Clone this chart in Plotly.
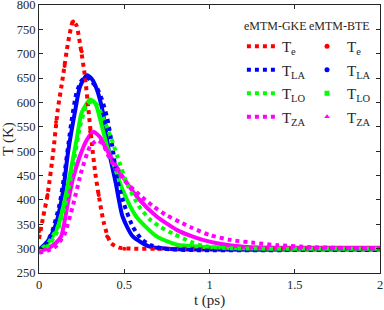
import plotly.graph_objects as go

# ---------------- data ----------------
# eMTM-GKE (dotted lines)
t_gke_e = [0, 0.025, 0.05, 0.083, 0.11, 0.14, 0.17, 0.2, 0.22, 0.24, 0.27, 0.29, 0.31, 0.33, 0.35, 0.38, 0.42, 0.47, 0.55, 0.7, 1.0, 1.5, 2.0]
T_gke_e = [320, 366, 410, 497, 585, 652, 722, 767, 758, 722, 652, 585, 515, 455, 410, 353, 312, 302, 300, 300, 300, 300, 300]

t_gke_la = [0, 0.04, 0.075, 0.12, 0.15, 0.19, 0.22, 0.25, 0.28, 0.31, 0.34, 0.37, 0.40, 0.43, 0.46, 0.50, 0.55, 0.60, 0.65, 0.73, 0.9, 1.5, 2.0]
T_gke_la = [296, 310, 333, 390, 455, 560, 620, 645, 652, 642, 630, 605, 568, 510, 440, 390, 345, 320, 308, 300, 297, 297, 297]

t_gke_lo = [0, 0.05, 0.1, 0.15, 0.2, 0.24, 0.28, 0.31, 0.34, 0.38, 0.42, 0.46, 0.52, 0.59, 0.65, 0.71, 0.79, 0.89, 0.96, 1.1, 1.3, 2.0]
T_gke_lo = [293, 305, 330, 385, 470, 550, 595, 602, 595, 565, 530, 489, 430, 385, 360, 345, 330, 314, 306, 301, 300, 300]

t_gke_za = [0, 0.05, 0.1, 0.15, 0.2, 0.25, 0.3, 0.34, 0.375, 0.4, 0.45, 0.5, 0.59, 0.67, 0.75, 0.83, 0.89, 1.0, 1.12, 1.26, 1.4, 1.6, 2.0]
T_gke_za = [292, 296, 305, 330, 390, 460, 510, 522, 515, 495, 465, 440, 410, 387, 368, 354, 344, 328, 318, 312, 307, 303, 300]

# eMTM-BTE (dense markers forming solid curves)
t_bte_e = [0, 0.05, 0.1, 0.15, 0.2, 0.25, 0.3, 0.35, 0.4, 0.5, 0.7, 1.0, 1.5, 2.0]
T_bte_e = [335, 410, 560, 675, 766, 705, 540, 410, 325, 300, 300, 300, 300, 300]

t_bte_la = [0, 0.05, 0.094, 0.14, 0.17, 0.21, 0.24, 0.28, 0.31, 0.34, 0.375, 0.41, 0.45, 0.49, 0.55, 0.65, 0.75, 1.0, 1.5, 2.0]
T_bte_la = [298, 315, 345, 415, 497, 579, 632, 656, 648, 626, 579, 500, 435, 366, 325, 304, 300, 298, 298, 298]

t_bte_lo = [0, 0.05, 0.11, 0.16, 0.19, 0.22, 0.25, 0.3, 0.33, 0.37, 0.40, 0.435, 0.49, 0.57, 0.69, 0.81, 0.95, 1.2, 1.5, 2.0]
T_bte_lo = [297, 310, 345, 415, 468, 523, 579, 606, 598, 550, 509, 476, 421, 366, 325, 308, 304, 301, 300, 300]

t_bte_za = [0, 0.05, 0.1, 0.13, 0.17, 0.2, 0.24, 0.28, 0.32, 0.36, 0.375, 0.41, 0.49, 0.59, 0.69, 0.81, 0.89, 0.96, 1.06, 1.2, 1.4, 2.0]
T_bte_za = [295, 300, 312, 325, 395, 445, 490, 523, 540, 528, 517, 495, 448, 400, 366, 338, 326, 318, 310, 304, 302, 302]

labels = ["T<sub>e</sub>", "T<sub>LA</sub>", "T<sub>LO</sub>", "T<sub>ZA</sub>"]
colors = ["#ff0000", "#0000ff", "#00ff00", "#ff00ff"]
symbols = ["circle", "circle", "square", "triangle-up"]

x_ticks = [0, 0.5, 1, 1.5, 2]
x_ticktext = ["0", "0.5", "1", "1.5", "2"]
y_ticks = [250, 300, 350, 400, 450, 500, 550, 600, 650, 700, 750, 800]

FONT = "Liberation Serif"
INK = "#262626"

gke = [(t_gke_e, T_gke_e), (t_gke_la, T_gke_la), (t_gke_lo, T_gke_lo), (t_gke_za, T_gke_za)]
bte = [(t_bte_e, T_bte_e), (t_bte_la, T_bte_la), (t_bte_lo, T_bte_lo), (t_bte_za, T_bte_za)]

fig = go.Figure()

# BTE Te drawn as sparse markers (hidden under the dotted GKE curve)
fig.add_trace(go.Scatter(x=bte[0][0], y=bte[0][1], mode="markers",
                         marker=dict(color=colors[0], size=4, symbol="circle"),
                         showlegend=False, hoverinfo="skip"))

# BTE solid curves for LA, LO, ZA
for i in [1, 2, 3]:
    fig.add_trace(go.Scatter(x=bte[i][0], y=bte[i][1], mode="lines",
                             line=dict(color=colors[i], width=4, shape="spline", smoothing=0.6),
                             showlegend=False, hoverinfo="skip"))

# GKE dotted curves
for i in range(4):
    fig.add_trace(go.Scatter(x=gke[i][0], y=gke[i][1], mode="lines",
                             line=dict(color=colors[i], width=4, dash="dot", shape="spline", smoothing=0.6),
                             name=labels[i], legend="legend", legendgroup="g%d" % i,
                             showlegend=True))

# BTE legend entries (markers)
for i in range(4):
    fig.add_trace(go.Scatter(x=[None], y=[None], mode="markers",
                             marker=dict(color=colors[i], size=5, symbol=symbols[i]),
                             name=labels[i], legend="legend2", legendgroup="b%d" % i,
                             showlegend=True))

axis_common = dict(showline=True, linecolor=INK, linewidth=1, mirror="ticks",
                   ticks="inside", ticklen=4, tickcolor=INK,
                   showgrid=False, zeroline=False, automargin=False,
                   ticklabeloverflow="allow",
                   tickfont=dict(family=FONT, size=12.5, color=INK))

fig.update_xaxes(range=[0, 2], tickvals=x_ticks, ticktext=x_ticktext,
                 title=dict(text="t (ps)", font=dict(family=FONT, size=15, color=INK), standoff=0),
                 **axis_common)
fig.update_yaxes(range=[250, 800], tickvals=y_ticks,
                 title=dict(text="T (K)", font=dict(family=FONT, size=15, color=INK), standoff=0),
                 **axis_common)

legend_common = dict(bgcolor="rgba(0,0,0,0)", borderwidth=0, yanchor="top", xanchor="left",
                     font=dict(family=FONT, size=15, color=INK),
                     itemwidth=30, tracegroupgap=1, traceorder="grouped")

fig.update_layout(
    width=384, height=310,
    margin=dict(l=39, r=4, t=5, b=37, autoexpand=False),
    paper_bgcolor="white", plot_bgcolor="white",
    font=dict(family=FONT, color=INK),
    legend=dict(x=0.595, y=0.965, title=dict(text="eMTM-GKE", font=dict(family=FONT, size=12, color=INK)),
                **legend_common),
    legend2=dict(x=0.786, y=0.965, title=dict(text="eMTM-BTE", font=dict(family=FONT, size=12, color=INK)),
                 **legend_common),
)

fig.write_html("out.html", config={"displayModeBar": False},
               post_script="document.body.style.margin='0';document.body.style.overflow='hidden';")
